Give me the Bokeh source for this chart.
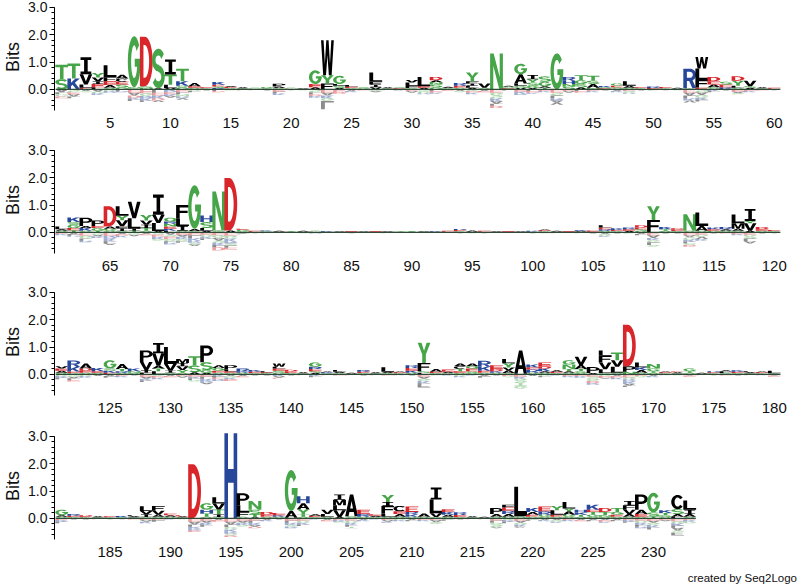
import numpy as np
from bokeh.plotting import figure
from bokeh.layouts import column
from bokeh.models import Range1d, FixedTicker, PrintfTickFormatter, Div, ColumnDataSource
from bokeh.embed import file_html
from bokeh.resources import INLINE

# ---------------- data: per position "positive stack (bottom->top) | negative stack (top->bottom)"
ROW_STARTS = [1, 61, 121, 181]
ROW1 = [
 "S.38 T.52|A.1 L.08 G.08 E.06", "K.4 T.55|S.1 E.08 A.08 L.06", "E.06 L.12 V.38 I.62|A.06 S.04",
 "L.08 E.12 I.1 V.14 Y.16|A.08 G.06 K.06", "S.06 A.1 E.14 F.15 L.44|G.06 R.06", "G.08 S.1 E.1 C.12 A.14|L.06 R.04",
 "S.04 N.04 G1.87|E.12 A.1 D.08 K.06 L.06", "N.06 S.06 D1.81|E.14 G.1 R.08 K.08 L.06", "A.04 S1.46|L.12 E.1 K.1 D.08 V.06",
 "V.05 L.12 T.38 I.55|R.1 E.08 K.06 A.06", "G.08 S.06 K.16 T.46|E.1 L.08 N.08 R.06 V.06", "S.06 E.06 A.12|G.06 L.04",
 "S.04 E.04|A.04", "R.05 S.06 E.06 K.1|L.06 D.04", "S.05 E.04 A.04|G.04",
 "S.04 A.04|L.03", "G.03 S.03|E.03", "S.04 G.05|A.04",
 "S.05 A.06 P.1|E.08 L.06 K.06", "E.03 S.03|A.03", "S.03 A.02|G.03",
 "A.08 E.12 G.5|S.1 L.08 D.06 K.06", "F.22 Y.3 W1.28|E.12 A.1 K.1 G.1 L.3", "A.06 S.08 L.06 G.3|E.1 D.06",
 "S.05 E.05 L.06|A.06 K.04", "G.04 S.04|E.04", "V.08 I.1 F.1 L.34|S.06 A.04",
 "S.04 A.04|E.03", "E.04 S.04|K.04", "S.05 F.08 L.12 V.1|E.06 A.06",
 "A.06 E.06 L.34|S.08 G.06 R.04", "G.08 S.1 N.08 A.08 D.12|L.06 E.06 K.04", "S.05 A.05|E.05",
 "S.06 E.08 R.1|A.06 G.04", "A.06 L.08 I.08 F.08 Y.32|S.06 E.06 K.06", "S.06 V.16|A.06 E.04",
 "N1.32|E.12 G.1 S.1 K.1 A.1 L.08 D.08", "E.04 S.06 A.04|L.04", "V.06 S.08 L.08 A.34 G.38|E.08 K.06 R.06",
 "A.05 G.08 S.12 Y.12 I.16|L.06 E.06 K.04", "T.06 A.06 G.16 S.2|E.06 K.04", "G1.32|E.12 S.1 L.1 R.08 A.08 V.08",
 "S.1 N.1 H.12 R.14|E.06 A.06", "A.08 S.12 G.14 T.18|L.06 E.06", "N.06 A.14 S.12 T.18|E.06 K.04",
 "E.04 S.04 K.05|A.04", "S.08 E.06 G.08|A.06 K.04", "S.06 A.08 L.16|E.06 G.06 R.04",
 "S.04 E.04|A.04", "E.05 R.06|S.04", "S.04 E.05|A.03",
 "S.03 A.03|G.03", "S.04 R.72|E.12 A.1 L.1 K.08 V.08", "E.07 F.28 L.42 W.42|S.1 A.1 G.1 K.08 L.06",
 "S.08 A.1 E.12 D.16|K.06 L.04", "R.08 E.1 S.1|A.04", "S.06 L.08 Y.18 D.16|E.08 A.06 G.04",
 "A.06 S.06 V.2|E.06 K.04", "S.04 A.04|E.04", "S.03 E.03|A.03",
]
ROW2 = [
 "S.06 A.06 L.1|E.06 K.04", "T.08 E.08 G.12 S.1 K.17|A.06 L.06 R.04", "S.06 K.1 A.08 P.3|E.12 G.1 L.08 R.06",
 "T.06 G.1 E.08 P.2|S.08 A.06 K.06", "S.06 G.08 A.08 D.74|E.12 R.1 K.1 L.08 A.06", "S.05 I.1 F.08 V.22 Y.16 L.35|A.06 E.06 K.06",
 "T.06 I.08 L.38 V.6|S.08 A.06", "S.06 T.1 I.12 V.16 Y.2|A.06 E.04", "A.05 L.3 V.3 I.74|S.08 E.08 K.08 G.06",
 "L.06 K.08 E.08 N.1 R.08 Q.14|A.08 S.08 E.08 G.08 L.06 R.06", "S.06 I.18 L.26 F.5|E.08 A.08 K.08 G.08 L.06", "S.05 A.08 G1.6|E.1 L.1 K.1 R.08 S.06 A.06",
 "A.06 L.1 S.22 H.24|E.08 G.08 K.06 L.06", "S.07 N1.43|E.1 G.1 A.1 S.08 K.08 L.08 D.12", "A.07 D1.92|E.12 G.1 K.1 R.08 S.08 L.08 E.06",
 "S.05 G.05 E.04|A.04 L.03", "S.03 E.03|A.03", "S.04 K.03|E.03",
 "S.03 A.03|E.02", "E.03 S.02|A.02", "S.03 A.03|G.03",
 "E.03 S.03|R.04", "S.03 K.02|A.02", "S.02 A.02|E.02",
 "S.03 E.02|A.03", "S.02 A.02|E.02", "S.02 E.02|A.02",
 "S.03 A.02|E.03", "S.02 G.02|A.02", "E.02 S.02|A.02",
 "S.03 A.02|E.02", "S.02 K.02|A.02", "S.03 E.03|A.02",
 "S.04 E.05 R.04|A.03", "S.03 A.04|G.03", "S.03 E.03|A.03",
 "S.02 A.02|E.02", "S.02 E.02|A.02", "S.02 A.02|E.02",
 "S.03 K.03|A.03", "S.04 E.04 A.03|G.03", "S.03 A.03|E.03",
 "S.02 E.02|A.02", "S.03 A.03 K.03|E.03", "S.03 E.04|A.04",
 "S.06 R.06 E.06 L.08|A.06 G.06 K.04", "S.05 E.04 K.06|A.04", "A.06 E.06 R.06|S.04",
 "G.06 S.06 E.06 D.08|A.06 L.04", "F.46 Y.5|E.1 A.1 K.08 G.08 L.1 S.06", "S.06 T.06 K.08|A.04",
 "S.05 E.05 D.05|A.04", "S.06 N.61|E.1 A.08 G.08 K.08 L.06 S.06 D.06", "S.06 A.18 L.49|E.08 G.08 V.08 K.06",
 "G.06 E.06 K.06|A.04", "S.06 A.06 R.08|E.04", "S.06 A.08 M.2 L.32|E.06 K.04",
 "A.06 V.28 Y.08 I.44|E.08 G.08 S.06 L.1 A.08", "S.06 E.06 D.08|A.04", "S.05 E.04|A.03",
]
ROW3 = [
 "S.06 A.08 E.08 V.08|G.06 K.06 L.06", "G.05 E.06 K.16 R.24|S.08 A.06 L.06 E.06", "S.06 E.08 D.08 A.18|G.06 K.06",
 "S.06 E.06 K.12|A.06", "E.06 K.08 S.08 G.3|A.06 L.06", "S.06 R.06 T.08 A.18|E.06 K.04",
 "S.06 N.06 K.1|A.04", "L.06 I.1 V.3 P.42|E.08 A.08 K.06 L.06", "L.12 T.1 A.1 V.46 I.37|S.06 E.06 K.06",
 "S.06 I.08 V.24 L.62|A.06 E.04", "S.06 Y.1 V.14 I.12 M.15|E.06 A.06", "A.08 S.25 T.34|E.08 K.06 L.06 G.06",
 "A.06 G.1 S.29 P.61|E.08 L.08 K.08 R.06 A.06", "S.06 E.08 G.1 A.1|K.06 L.06 E.06 R.06", "S.06 E.06 L.06 P.16|A.06 G.06 K.06 E.06",
 "S.06 K.06 R.1|A.06 E.04", "S.05 E.05 K.06|A.04", "S.04 E.04 L.04|A.04",
 "G.06 S.08 E.08 L.06 W.12|K.06 A.06 E.04", "S.05 E.06 D.06|A.04", "S.04 A.04|E.03",
 "A.06 S.06 E.08 R.08 G.16|K.06 L.04", "S.04 K.04 A.03|E.03", "S.05 A.05 L.06|E.04",
 "S.03 A.03|E.03", "S.05 E.05 R.06|A.04", "S.04 A.04|E.03",
 "S.05 A.05 L.16|E.04", "S.04 E.04 A.03|K.03", "S.06 K.08 E.1 R.1|A.04",
 "L.06 S.06 F.3 Y.74|E.08 A.08 G.08 K.08 L.06 F.1", "S.05 E.05 A.1|G.04", "S.05 A.05 E.08|K.04",
 "S.06 E.06 T.08 C.1 A.1|G.06 K.04", "S.06 G.06 E.1 Q.08 A.1|K.04", "S.06 E.08 K.14 R.22|A.06 L.06",
 "S.06 K.06 D.08 E.14|A.04", "S.05 A.1 V.1 Y.16 L.16|E.06 G.04", "S.03 A.85|E.08 K.08 G.08 S.08 T.1 G.1",
 "S.06 R.12 E.08 K.1|A.06", "S.06 A.06 K.1 D.08 E.14|G.06 L.04", "S.05 E.05 A.05|K.04",
 "S.06 A.06 T.08 N.16 G.16|E.06 K.04", "S.06 G.06 T.08 A.15 V.3|E.06 K.06", "A.05 P.22|E.08 S.08 G.08 D.08 R.06",
 "S.05 L.14 V.25 F.24 L.2|G.06 E.06 A.04", "S.06 L.22 V.24 T.28|A.06 E.06 K.06", "N.1 P.2 D1.52|E.1 G.08 R.08 K.08 A.06 L.06",
 "S.06 A.1 K.1 L.18|E.06 G.04", "S.06 T.06 G.1 N.16|A.06 K.04", "S.04 E.04 A.03|K.03",
 "S.04 A.04 E.03|G.03", "S.06 T.06 G.1|A.04 E.04", "S.03 A.03|E.03",
 "S.04 E.04 R.04|A.03", "S.05 L.06 A.04|E.04", "S.05 E.05 K.05|A.04",
 "S.04 A.04 L.04|E.03", "S.04 E.04 A.03|K.03", "S.04 L.1|A.04 E.04",
]
ROW4 = [
 "S.06 A.06 G.2|E.06 K.06 L.06", "S.05 E.05 R.06|A.04", "S.04 E.04 D.04|A.04",
 "S.04 A.04|E.03", "S.04 E.04|A.03", "S.04 K.05|A.03",
 "S.04 A.04 L.04|E.04", "S.05 I.1 V.12 L.18|E.06 A.06 K.06", "S.06 A.08 V.14 F.18|E.06 L.06",
 "S.06 A.06 E.06|K.04", "S.04 A.04 E.04|G.03", "S.02 D1.96|E.12 A.1 L.08 K.08 R.06 E.06",
 "S.06 T.12 H.14 G.24|E.08 A.08 K.08 L.06", "S.05 I.1 T.18 V.22 L.23|A.06 E.06", "H3.12|E.12 A.1 L.1 G.08 K.08 R.08 S.06 D.06",
 "S.06 F.18 L.24 P.44|E.08 A.08 K.08 G.06", "A.04 T.12 S.16 N.32|E.08 L.08 K.08 A.06 D.06", "S.06 E.08 D.1|A.06 K.04",
 "S.06 K.06 E.08|A.04", "S.03 A.24 G1.5|E.08 L.08 K.08 S.06 R.06", "S.06 T.08 Y.2 A.22 H.25|E.08 G.08 K.06 L.06",
 "S.05 E.05 A.05|K.04", "S.06 L.1 V.16|A.06 E.04", "A.05 V.25 L.18 M.2 I.2|E.06 K.06 S.04",
 "S.08 A.8|E.08 G.08 K.08 L.06 T.06", "S.06 R.1 E.16|A.06 K.04", "S.05 A.05 E.05|K.04",
 "S.06 L.12 F.28 I.14 Y.26|E.06 A.06 K.04", "S.06 A.1 E.1 C.2|G.06 K.04", "S.06 K.08 R.1 E.2|A.06 L.04",
 "S.06 A.12|E.06 K.04", "S.05 V.14 L.5 I.44|E.06 A.08 G.06", "S.06 A.08 K.1 E.1|G.04 L.04",
 "S.05 E.08 R.1|A.04", "S.04 A.04|E.03", "S.03 A.03|E.03",
 "S.06 A.1 P.22|E.08 L.08 G.08 S.08 A.04", "G.06 A.1 R.12 E.12 F.1|S.06 K.06 L.06", "S.08 L1.08|E.08 A.08 G.06 K.06 C.06",
 "S.06 E.08 A.1 K.14|G.04 L.04", "S.06 G.08 R.12 E.18|A.06 K.04", "S.06 E.08 L.16 Y.16|A.06 G.06 K.04",
 "S.06 G.08 A.12 Y.1 L.24|E.06 K.04", "S.06 T.08 K.08 H.1|A.06 E.04", "S.06 G.08 T.1 E.08 K.18|A.06 L.04",
 "S.06 N.06 T.12 D.14|A.06 E.06 K.04", "S.06 E.08 G.1 T.14|A.06 L.04", "S.06 A.1 V.16 F.16 I.16|E.06 K.06 L.04",
 "S.06 E.1 A.16 P.56|E.08 G.08 K.08 L.06 R.06", "T.08 S.14 G.72|E.08 A.08 G.08 K.08 L.08", "S.06 G.06 T.08 K.1|E.06 A.04",
 "L.06 A.1 S.18 C.52|E.1 G.08 K.08 L.08 A.1 S.08 F.1", "S.06 A.1 I.16 L.34|E.06 K.06 G.06",
]
ROWS = [ROW1, ROW2, ROW3, ROW4]
YTICKS = [0, 1, 2, 3]
CREDIT = "created by Seq2Logo"

GREEN, BLUE, RED, BLACK = "#46A548", "#27479B", "#D8262A", "#000000"
COLORS = {}
for a in "GSTYNQ": COLORS[a] = GREEN
for a in "KRH": COLORS[a] = BLUE
for a in "DE": COLORS[a] = RED
for a in "AVLIPFWMC": COLORS[a] = BLACK

# ---------------- letter outlines in a unit box
def arc(cx, cy, rx, ry, a0, a1, n=24):
    t = np.radians(np.linspace(a0, a1, n))
    return list(zip(cx + rx * np.cos(t), cy + ry * np.sin(t)))

def stroke(pts, hx, hy):
    P = np.array(pts, float)
    d = np.gradient(P, axis=0)
    n = np.stack([-d[:, 1], d[:, 0]], 1)
    n /= np.linalg.norm(n, axis=1, keepdims=True)
    off = n * np.array([hx, hy])
    return [tuple(q) for q in np.vstack([P + off, (P - off)[::-1]])]

P_OUT = [(0, 0), (0.28, 0), (0.28, 0.38), (0.52, 0.38)] + arc(0.52, 0.69, 0.48, 0.31, -90, 90, 20) + [(0, 1)]
P_HOLE = [(0.28, 0.54), (0.52, 0.54)] + arc(0.52, 0.69, 0.22, 0.15, -90, 90, 16) + [(0.28, 0.84)]
S_LINE = arc(0.5, 0.71, 0.36, 0.2, 25, 270, 26) + arc(0.5, 0.29, 0.36, 0.2, 90, -155, 26)[1:]

SHAPES = {
 "A": [[[(0, 0), (0.26, 0), (0.33, 0.2), (0.67, 0.2), (0.74, 0), (1, 0), (0.63, 1), (0.37, 1)],
        [(0.39, 0.36), (0.61, 0.36), (0.5, 0.7)]]],
 "C": [[arc(.5, .5, .5, .5, 38, 322, 32) + arc(.5, .5, .24, .32, 322, 38, 32)]],
 "D": [[[(0, 0), (0.38, 0)] + arc(0.38, 0.5, 0.62, 0.5, -90, 90, 24) + [(0, 1)],
        [(0.28, 0.17), (0.38, 0.17)] + arc(0.38, 0.5, 0.34, 0.33, -90, 90, 24) + [(0.28, 0.83)]]],
 "E": [[[(0, 0), (1, 0), (1, 0.17), (0.28, 0.17), (0.28, 0.42), (0.92, 0.42), (0.92, 0.58), (0.28, 0.58),
         (0.28, 0.83), (1, 0.83), (1, 1), (0, 1)]]],
 "F": [[[(0, 0), (0.28, 0), (0.28, 0.42), (0.9, 0.42), (0.9, 0.58), (0.28, 0.58), (0.28, 0.83), (1, 0.83),
         (1, 1), (0, 1)]]],
 "G": [[arc(.5, .5, .5, .5, 40, 360, 32) + [(1, 0.56), (0.54, 0.56), (0.54, 0.4)]
        + arc(.5, .5, .24, .32, -18.2, -320, 32)]],
 "H": [[[(0, 0), (0.28, 0), (0.28, 0.42), (0.72, 0.42), (0.72, 0), (1, 0), (1, 1), (0.72, 1), (0.72, 0.58),
         (0.28, 0.58), (0.28, 1), (0, 1)]]],
 "I": [[[(0.08, 0), (0.92, 0), (0.92, 0.16), (0.64, 0.16), (0.64, 0.84), (0.92, 0.84), (0.92, 1), (0.08, 1),
         (0.08, 0.84), (0.36, 0.84), (0.36, 0.16), (0.08, 0.16)]]],
 "K": [[[(0, 0), (0.28, 0), (0.28, 0.3), (0.4, 0.44), (0.7, 0), (1, 0), (0.58, 0.62), (0.97, 1), (0.63, 1),
         (0.28, 0.62), (0.28, 1), (0, 1)]]],
 "L": [[[(0, 0), (1, 0), (1, 0.18), (0.3, 0.18), (0.3, 1), (0, 1)]]],
 "M": [[[(0, 0), (0.22, 0), (0.22, 0.72), (0.4, 0), (0.6, 0), (0.78, 0.72), (0.78, 0), (1, 0), (1, 1),
         (0.69, 1), (0.5, 0.32), (0.31, 1), (0, 1)]]],
 "N": [[[(0, 0), (0.25, 0), (0.25, 0.66), (0.72, 0), (1, 0), (1, 1), (0.75, 1), (0.75, 0.34), (0.28, 1), (0, 1)]]],
 "P": [[P_OUT, P_HOLE]],
 "Q": [[arc(.5, .5, .5, .5, 0, 360, 40), arc(.5, .5, .24, .32, 0, 360, 40)],
       [[(0.52, 0.3), (0.74, 0.3), (1.0, 0.0), (0.78, 0.0)]]],
 "R": [[P_OUT, P_HOLE], [[(0.42, 0.44), (0.7, 0.44), (1.0, 0.0), (0.7, 0.0)]]],
 "S": [[stroke(S_LINE, 0.14, 0.085)]],
 "T": [[[(0, 1), (1, 1), (1, 0.83), (0.64, 0.83), (0.64, 0), (0.36, 0), (0.36, 0.83), (0, 0.83)]]],
 "V": [[[(0, 1), (0.28, 1), (0.5, 0.3), (0.72, 1), (1, 1), (0.64, 0), (0.36, 0)]]],
 "W": [[[(0, 1), (0.2, 1), (0.3, 0.32), (0.41, 1), (0.59, 1), (0.7, 0.32), (0.8, 1), (1, 1), (0.83, 0),
         (0.61, 0), (0.5, 0.58), (0.39, 0), (0.17, 0)]]],
 "Y": [[[(0, 1), (0.3, 1), (0.5, 0.6), (0.7, 1), (1, 1), (0.64, 0.42), (0.64, 0), (0.36, 0), (0.36, 0.42)]]],
}

LETTER_W = 1.06
NEG_ALPHA = 0.45
FONT = "Liberation Sans"

def build(row, start):
    xs, ys, cols, alph = [], [], [], []
    def add(letter, pos, y0, h, flip, alpha):
        for polygon in SHAPES[letter]:
            rx, ry = [], []
            for ring in polygon:
                u = np.array([q[0] for q in ring]); v = np.array([q[1] for q in ring])
                if flip:
                    v = 1 - v
                rx.append(list(pos - LETTER_W / 2 + u * LETTER_W))
                ry.append(list(y0 + v * h))
            xs.append([rx]); ys.append([ry]); cols.append(COLORS[letter]); alph.append(alpha)
    for i, s in enumerate(row):
        pos = start + i
        pos_part, neg_part = s.split("|")
        y0 = 0.0
        for tok in pos_part.split():
            h = float(tok[1:])
            add(tok[0], pos, y0, h, False, 1.0)
            y0 += h
        y0 = 0.0
        for tok in neg_part.split():
            h = float(tok[1:])
            add(tok[0], pos, y0 - h, h, True, NEG_ALPHA)
            y0 -= h
    return ColumnDataSource(dict(xs=xs, ys=ys, color=cols, alpha=alph))

TOPS = [3, 4, 4, 4]
BOTTOMS = [32, 31, 33, 29]
figs = []
for r, (row, start) in enumerate(zip(ROWS, ROW_STARTS)):
    p = figure(frame_width=727, frame_height=107, output_backend="svg", toolbar_location=None,
               x_range=Range1d(start - 0.6, start + 59.6), y_range=Range1d(-0.77, 3.145),
               min_border_left=53, min_border_right=18, min_border_top=TOPS[r],
               min_border_bottom=BOTTOMS[r])
    p.outline_line_color = None
    p.xgrid.visible = False
    p.ygrid.visible = False
    p.background_fill_color = "white"

    src = build(row, start)
    p.multi_polygons(xs="xs", ys="ys", fill_color="color", fill_alpha="alpha", line_color=None, source=src)
    positions = [start + i for i in range(len(row))]
    p.line(x=[positions[0] - 0.5, positions[-1] + 0.5], y=[0, 0], line_color="#2e4a36", line_width=1.3)

    ya = p.yaxis[0]
    ya.ticker = FixedTicker(ticks=YTICKS, minor_ticks=[round(-0.6 + 0.2 * k, 1) for k in range(19)])
    ya.formatter = PrintfTickFormatter(format="%.1f")
    ya.bounds = (-0.76, 3.0)
    ya.major_tick_in = 0; ya.major_tick_out = 5
    ya.minor_tick_in = 0; ya.minor_tick_out = 3
    ya.axis_line_color = "black"; ya.major_tick_line_color = "black"; ya.minor_tick_line_color = "black"
    ya.major_label_text_font = FONT; ya.major_label_text_font_size = "14px"
    ya.major_label_text_color = "#111111"; ya.major_label_standoff = 2
    ya.axis_label = "Bits"; ya.axis_label_text_font = FONT; ya.axis_label_text_font_size = "18px"
    ya.axis_label_text_font_style = "normal"; ya.axis_label_standoff = 2; ya.axis_label_text_color = "#111111"

    xa = p.xaxis[0]
    xa.ticker = FixedTicker(ticks=[t for t in positions if t % 5 == 0])
    xa.axis_line_color = None; xa.major_tick_line_color = None; xa.minor_tick_line_color = None
    xa.major_tick_out = 0; xa.major_tick_in = 0
    xa.major_label_text_font = FONT; xa.major_label_text_font_size = "15px"
    xa.major_label_text_color = "#111111"; xa.major_label_standoff = 7
    figs.append(p)

credit = Div(text=CREDIT, width=797, height=20,
             styles={"text-align": "right", "font-family": "'Liberation Sans', Arial, sans-serif",
                     "font-size": "11.5px", "line-height": "20px", "color": "#111111",
                     "white-space": "nowrap", "margin": "0", "padding": "0"})

layout = column(*figs, credit, spacing=0)
open("out.html", "w").write(file_html(layout, INLINE))
